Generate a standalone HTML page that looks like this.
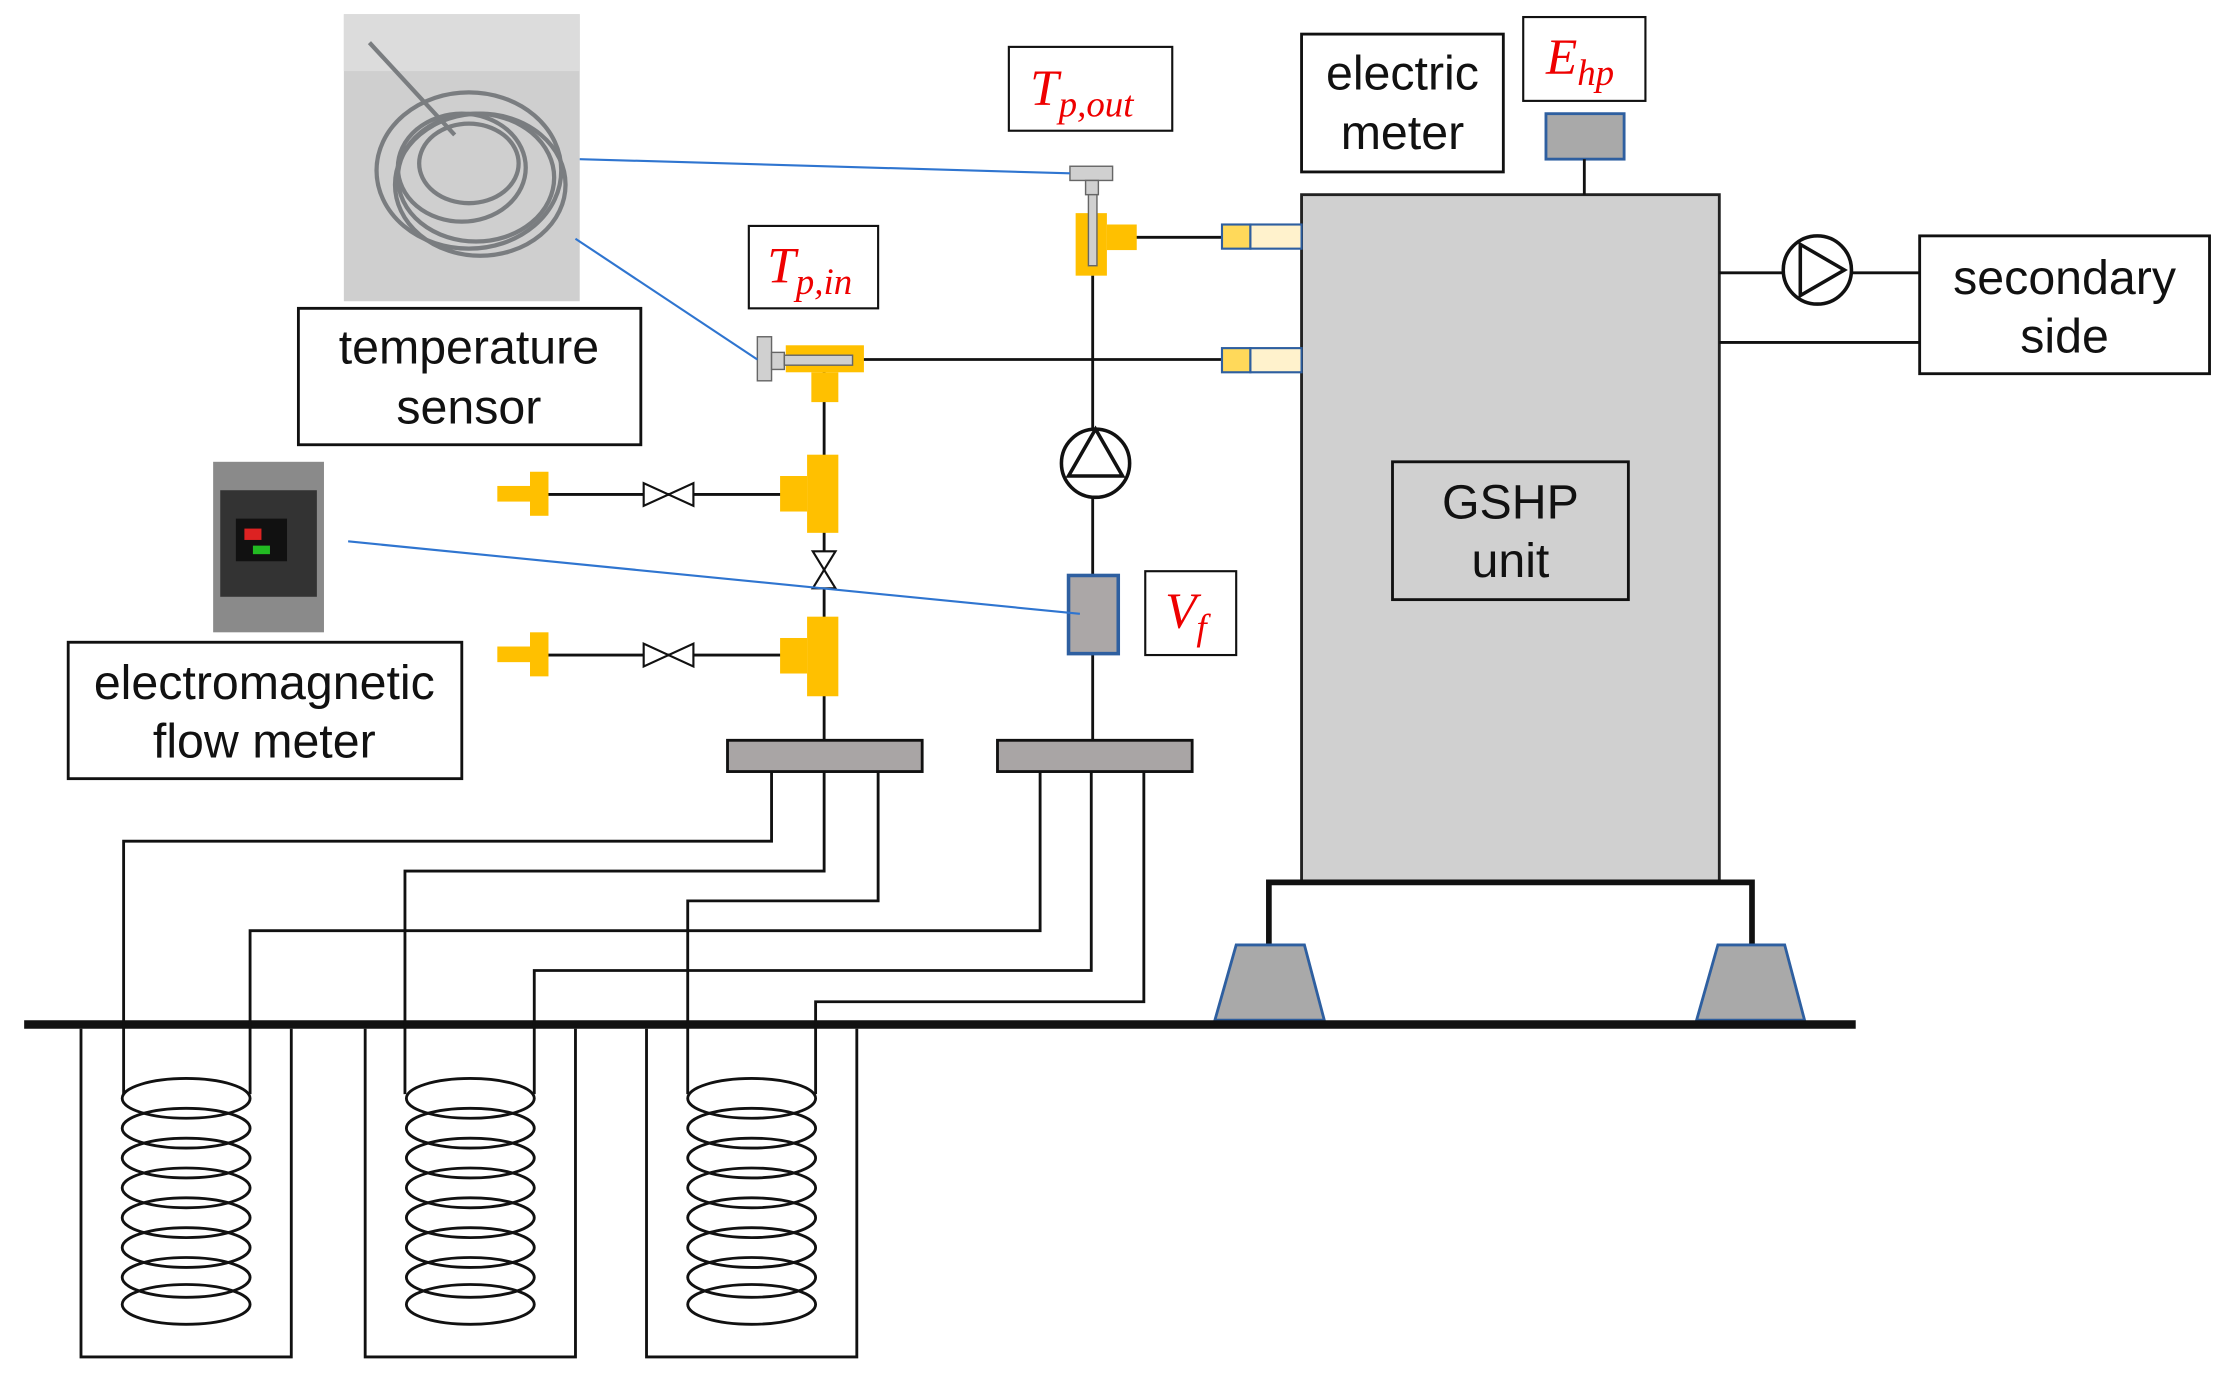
<!DOCTYPE html>
<html><head><meta charset="utf-8"><style>html,body{margin:0;padding:0;background:#fff}svg{display:block}</style></head><body>
<svg width="2228" height="1379" viewBox="0 0 1568 970.5" preserveAspectRatio="none" xmlns="http://www.w3.org/2000/svg" font-family="Liberation Sans, sans-serif">
<rect x="242" y="10" width="166" height="202" fill="#cfcfcf"/>
<rect x="242" y="10" width="166" height="40" fill="#dcdcdc"/>
<g fill="none" stroke="#7a7d80" stroke-width="3">
<ellipse cx="330" cy="120" rx="65" ry="55"/><ellipse cx="335" cy="125" rx="55" ry="45"/><ellipse cx="325" cy="118" rx="45" ry="38"/><ellipse cx="338" cy="130" rx="60" ry="50"/><ellipse cx="330" cy="115" rx="35" ry="28"/>
<line x1="260" y1="30" x2="320" y2="95"/></g>
<rect x="150" y="325" width="78" height="120" fill="#8a8a8a"/>
<rect x="155" y="345" width="68" height="75" fill="#333"/>
<rect x="166" y="365" width="36" height="30" fill="#111"/>
<rect x="172" y="372" width="12" height="8" fill="#d22"/><rect x="178" y="384" width="12" height="6" fill="#2b2"/>
<g fill="#fff" stroke="#111" stroke-width="2">
<rect x="210" y="217" width="241" height="96"/>
<rect x="48" y="452" width="277" height="96"/>
<rect x="710" y="33" width="115" height="59" stroke-width="1.5"/>
<rect x="527" y="159" width="91" height="58" stroke-width="1.5"/>
<rect x="916" y="24" width="142" height="97"/>
<rect x="1072" y="12" width="86" height="59" stroke-width="1.5"/>
<rect x="1351" y="166" width="204" height="97"/>
<rect x="806" y="402" width="64" height="59" stroke-width="1.5"/>
</g>
<g font-size="34" fill="#111" text-anchor="middle">
<text x="330" y="256">temperature</text><text x="330" y="298">sensor</text>
<text x="186" y="492">electromagnetic</text><text x="186" y="533">flow meter</text>
<text x="987" y="63">electric</text><text x="987" y="105">meter</text>
<text x="1453" y="207">secondary</text><text x="1453" y="248">side</text>
</g>
<g font-family="Liberation Serif, serif" font-style="italic" fill="#e00">
<text x="725" y="74" font-size="36">T<tspan font-size="26" dy="8">p,out</tspan></text>
<text x="540" y="199" font-size="36">T<tspan font-size="26" dy="8">p,in</tspan></text>
<text x="1088" y="52" font-size="36">E<tspan font-size="26" dy="8">hp</tspan></text>
<text x="820" y="442" font-size="36">V<tspan font-size="26" dy="8">f</tspan></text>
</g>
<rect x="916" y="137" width="294" height="483" fill="#d0d0d0" stroke="#222" stroke-width="2"/>
<rect x="980" y="325" width="166" height="97" fill="none" stroke="#111" stroke-width="2"/>
<text x="1063" y="365" font-size="34" text-anchor="middle" fill="#111">GSHP</text>
<text x="1063" y="406" font-size="34" text-anchor="middle" fill="#111">unit</text>
<rect x="1088" y="80" width="55" height="32" fill="#a9a9a9" stroke="#2e5fa0" stroke-width="2"/>
<line x1="1115" y1="112" x2="1115" y2="137" stroke="#111" stroke-width="2"/>
<g stroke="#111" stroke-width="2" fill="none">
<line x1="1210" y1="192" x2="1351" y2="192"/><line x1="1210" y1="241" x2="1351" y2="241"/>
</g>
<circle cx="1279" cy="190" r="24" fill="#fff" stroke="#111" stroke-width="2.5"/>
<polygon points="1267,172 1267,208 1298,190" fill="none" stroke="#111" stroke-width="2.5"/>
<g stroke="#111" stroke-width="4" fill="none"><polyline points="893,665 893,621 1233,621 1233,665"/></g>
<polygon points="870,665 918,665 932,718 855,718" fill="#a9a9a9" stroke="#2e5fa0" stroke-width="2"/>
<polygon points="1209,665 1256,665 1270,718 1194,718" fill="#a9a9a9" stroke="#2e5fa0" stroke-width="2"/>
<line x1="17" y1="721" x2="1306" y2="721" stroke="#111" stroke-width="6"/>
<g stroke="#111" stroke-width="2" fill="none">
<polyline points="57,724 57,955 205,955 205,724"/>
<polyline points="257,724 257,955 405,955 405,724"/>
<polyline points="455,724 455,955 603,955 603,724"/>
<g id="c">
<ellipse cx="131" cy="773" rx="45" ry="14"/><ellipse cx="131" cy="794" rx="45" ry="14"/><ellipse cx="131" cy="815" rx="45" ry="14"/><ellipse cx="131" cy="836" rx="45" ry="14"/><ellipse cx="131" cy="857" rx="45" ry="14"/><ellipse cx="131" cy="878" rx="45" ry="14"/><ellipse cx="131" cy="899" rx="45" ry="14"/><ellipse cx="131" cy="918" rx="45" ry="14"/>
</g>
<use href="#c" x="200"/><use href="#c" x="398"/>
<polyline points="543,543 543,592 87,592 87,770"/>
<polyline points="580,543 580,613 285,613 285,770"/>
<polyline points="618,543 618,634 484,634 484,770"/>
<polyline points="732,543 732,655 176,655 176,770"/>
<polyline points="768,543 768,683 376,683 376,770"/>
<polyline points="805,543 805,705 574,705 574,770"/>
<line x1="580" y1="253" x2="580" y2="521"/>
<line x1="769" y1="194" x2="769" y2="521"/>
<line x1="600" y1="253" x2="860" y2="253"/>
<line x1="795" y1="167" x2="860" y2="167"/>
<line x1="385" y1="348" x2="550" y2="348"/>
<line x1="385" y1="461" x2="550" y2="461"/>
</g>
<rect x="512" y="521" width="137" height="22" fill="#a9a5a5" stroke="#111" stroke-width="2"/>
<rect x="702" y="521" width="137" height="22" fill="#a9a5a5" stroke="#111" stroke-width="2"/>
<g stroke="#2e5fa0" stroke-width="1.5">
<rect x="860" y="158" width="20" height="17" fill="#ffd95a"/><rect x="880" y="158" width="36" height="17" fill="#fff2cc"/>
<rect x="860" y="245" width="20" height="17" fill="#ffd95a"/><rect x="880" y="245" width="36" height="17" fill="#fff2cc"/>
</g>
<g fill="#ffc000">
<rect x="757" y="150" width="22" height="44"/><rect x="779" y="158" width="21" height="18"/>
<rect x="553" y="243" width="55" height="19"/><rect x="571" y="262" width="19" height="21"/>
<rect x="568" y="320" width="22" height="55"/><rect x="549" y="335" width="19" height="25"/>
<rect x="568" y="434" width="22" height="56"/><rect x="549" y="449" width="19" height="25"/>
<rect x="350" y="342" width="23" height="11"/><rect x="373" y="332" width="13" height="31"/>
<rect x="350" y="455" width="23" height="11"/><rect x="373" y="445" width="13" height="31"/>
</g>
<g fill="#d0d0d0" stroke="#666" stroke-width="1">
<rect x="753" y="117" width="30" height="10"/><rect x="764" y="127" width="9" height="10"/><rect x="766" y="137" width="6" height="50"/>
<rect x="533" y="237" width="10" height="31"/><rect x="543" y="248" width="9" height="12"/><rect x="552" y="250" width="48" height="7"/>
</g>
<g fill="#fff" stroke="#111" stroke-width="1.5">
<polygon points="453,340 453,356 488,340 488,356"/>
<polygon points="453,453 453,469 488,453 488,469"/>
<polygon points="572,388 588,388 572,414 588,414"/>
</g>
<circle cx="771" cy="326" r="24" fill="#fff" stroke="#111" stroke-width="2.5"/>
<polygon points="771,302 752,335 790,335" fill="none" stroke="#111" stroke-width="2.5"/>
<rect x="752" y="405" width="35" height="55" fill="#aba7a7" stroke="#2e5fa0" stroke-width="2.5"/>
<g stroke="#2f75d0" stroke-width="1.5">
<line x1="408" y1="112" x2="753" y2="122"/>
<line x1="405" y1="168" x2="533" y2="253"/>
<line x1="245" y1="381" x2="760" y2="432"/>
</g>
</svg>
</body></html>
